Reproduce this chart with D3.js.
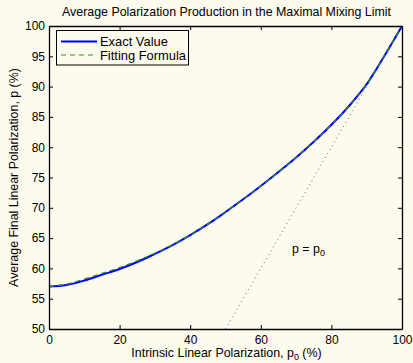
<!DOCTYPE html>
<html>
<head>
<meta charset="utf-8">
<script src="https://cdn.jsdelivr.net/npm/d3@7"></script>
<style>
  html, body { margin: 0; padding: 0; background: #fdfbee; }
  svg { display: block; font-family: "Liberation Sans", Arial, sans-serif; }
</style>
</head>
<body>
<svg id="chart" width="413" height="363"></svg>
<script>
// Intrinsic polarization p0 (%)
const p0Values = [0, 5, 10, 15, 20, 25, 30, 35, 40, 45, 50, 55, 60, 65, 70, 75, 80, 85, 90, 95, 100];
// Average final polarization p (%), exact value
const exactValues = [57.0, 57.25, 58.0, 58.95, 59.9, 61.05, 62.4, 63.85, 65.5, 67.3, 69.3, 71.4, 73.6, 75.9, 78.3, 80.9, 83.7, 86.8, 90.4, 95.05, 100];
// Average final polarization p (%), fitting formula
const fitValues = [57.0, 57.4, 58.25, 59.2, 60.15, 61.25, 62.5, 63.9, 65.5, 67.3, 69.3, 71.4, 73.6, 75.9, 78.3, 80.9, 83.7, 86.8, 90.4, 95.05, 100];
// Reference line p = p0
const diagX = [50, 100];
const diagY = [50, 100];
const xTicks = [0, 20, 40, 60, 80, 100];
const yTicks = [50, 55, 60, 65, 70, 75, 80, 85, 90, 95, 100];
const seriesNames = ["Exact Value", "Fitting Formula"];

const svg = d3.select("#chart");
const m = { left: 49, right: 402, top: 26, bottom: 329 };

const x = d3.scaleLinear().domain([0, 100]).range([m.left, m.right]);
const y = d3.scaleLinear().domain([50, 100]).range([m.bottom, m.top]);

const straight = d3.line().x(d => x(d[0])).y(d => y(d[1]));
const smooth = d3.line().x(d => x(d[0])).y(d => y(d[1])).curve(d3.curveCatmullRom.alpha(0.5));

// clip region for curves
svg.append("clipPath").attr("id", "plotClip")
  .append("rect").attr("x", m.left).attr("y", m.top - 1)
  .attr("width", m.right - m.left + 1).attr("height", m.bottom - m.top + 1);

const plot = svg.append("g").attr("clip-path", "url(#plotClip)");

// p = p0 dotted line
plot.append("path")
  .datum(d3.zip(diagX, diagY))
  .attr("d", straight)
  .attr("fill", "none")
  .attr("stroke", "#666")
  .attr("stroke-width", 1)
  .attr("stroke-dasharray", "1,3.5");

// exact curve
plot.append("path")
  .datum(d3.zip(p0Values, exactValues))
  .attr("d", smooth)
  .attr("fill", "none")
  .attr("stroke", "#0000ff")
  .attr("stroke-width", 2);

// fitting formula curve
plot.append("path")
  .datum(d3.zip(p0Values, fitValues))
  .attr("d", smooth)
  .attr("fill", "none")
  .attr("stroke", "#2a8f2a")
  .attr("stroke-width", 1.2)
  .attr("stroke-dasharray", "5,4");

// axes (inward ticks, box on)
const tickLen = 4;
const bottomAxis = svg.append("g").attr("transform", `translate(0,${m.bottom})`)
  .call(d3.axisBottom(x).tickValues(xTicks).tickSizeInner(-tickLen).tickSizeOuter(0).tickPadding(6));
const topAxis = svg.append("g").attr("transform", `translate(0,${m.top})`)
  .call(d3.axisTop(x).tickValues(xTicks).tickSizeInner(-tickLen).tickSizeOuter(0).tickFormat(""));
const leftAxis = svg.append("g").attr("transform", `translate(${m.left},0)`)
  .call(d3.axisLeft(y).tickValues(yTicks).tickSizeInner(-tickLen).tickSizeOuter(0).tickPadding(4));
const rightAxis = svg.append("g").attr("transform", `translate(${m.right},0)`)
  .call(d3.axisRight(y).tickValues(yTicks).tickSizeInner(-tickLen).tickSizeOuter(0).tickFormat(""));

[bottomAxis, topAxis, leftAxis, rightAxis].forEach(g => {
  g.select(".domain").attr("stroke", "#000").attr("stroke-width", 1.3);
  g.selectAll(".tick line").attr("stroke", "#000").attr("stroke-width", 1);
  g.selectAll(".tick text").attr("fill", "#000").attr("font-size", 12)
    .attr("font-family", "Liberation Sans, Arial, sans-serif");
});

// title
svg.append("text")
  .attr("x", (m.left + m.right) / 2 + 1).attr("y", 16)
  .attr("text-anchor", "middle").attr("font-size", 12.4)
  .text("Average Polarization Production in the Maximal Mixing Limit");

// x label
const xl = svg.append("text")
  .attr("x", (m.left + m.right) / 2 + 1).attr("y", 357)
  .attr("text-anchor", "middle").attr("font-size", 12.4);
xl.append("tspan").text("Intrinsic Linear Polarization, p");
xl.append("tspan").attr("font-size", 9).attr("dy", 3).text("0");
xl.append("tspan").attr("dy", -3).text(" (%)");

// y label
svg.append("text")
  .attr("transform", `translate(18,${(m.top + m.bottom) / 2}) rotate(-90)`)
  .attr("text-anchor", "middle").attr("font-size", 12.4)
  .text("Average Final Linear Polarization, p (%)");

// p = p0 annotation
const ann = svg.append("text").attr("x", 292).attr("y", 253).attr("font-size", 12.4);
ann.append("tspan").text("p = p");
ann.append("tspan").attr("font-size", 9).attr("dy", 3).text("0");

// legend
const lg = svg.append("g");
lg.append("rect")
  .attr("x", 56.5).attr("y", 30.5).attr("width", 132).attr("height", 34.5)
  .attr("fill", "#fdfbee").attr("stroke", "#000").attr("stroke-width", 1);
const legendStyles = [
  { color: "#0000ff", width: 2, dash: null },
  { color: "#2a8f2a", width: 1.2, dash: "5,4" }
];
seriesNames.forEach((name, i) => {
  const yy = 41.5 + i * 13.5;
  lg.append("line")
    .attr("x1", 61).attr("x2", 97).attr("y1", yy).attr("y2", yy)
    .attr("stroke", legendStyles[i].color)
    .attr("stroke-width", legendStyles[i].width)
    .attr("stroke-dasharray", legendStyles[i].dash);
  lg.append("text").attr("x", 100).attr("y", yy + 4.5)
    .attr("font-size", 12.9).text(name);
});
</script>
</body>
</html>
